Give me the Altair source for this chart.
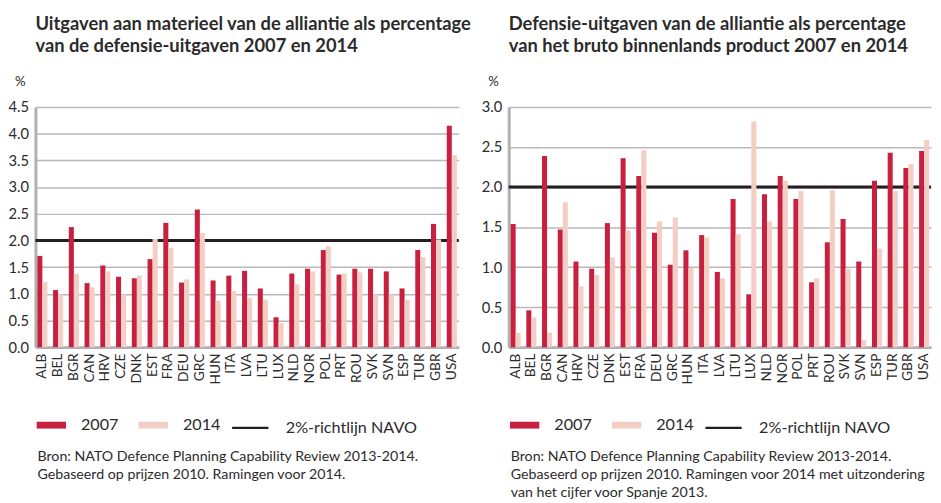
import altair as alt
import pandas as pd

countries = ["ALB", "BEL", "BGR", "CAN", "HRV", "CZE", "DNK", "EST", "FRA", "DEU",
             "GRC", "HUN", "ITA", "LVA", "LTU", "LUX", "NLD", "NOR", "POL", "PRT",
             "ROU", "SVK", "SVN", "ESP", "TUR", "GBR", "USA"]

materieel_2007 = [1.71, 1.07, 2.25, 1.20, 1.53, 1.32, 1.29, 1.65, 2.33, 1.21,
                  2.58, 1.25, 1.34, 1.43, 1.10, 0.56, 1.38, 1.47, 1.82, 1.36,
                  1.47, 1.47, 1.42, 1.10, 1.82, 2.31, 4.15]
materieel_2014 = [1.22, 0.99, 1.37, 1.12, 1.42, 0.99, 1.34, 2.03, 1.86, 1.27,
                  2.14, 0.87, 1.05, 0.92, 0.89, 0.45, 1.18, 1.42, 1.89, 1.38,
                  1.40, 0.99, 0.99, 0.89, 1.69, 2.02, 3.60]

bbp_2007 = [1.54, 0.46, 2.39, 1.47, 1.07, 0.98, 1.55, 2.36, 2.14, 1.43,
            1.03, 1.21, 1.40, 0.94, 1.85, 0.66, 1.91, 2.14, 1.85, 0.81,
            1.31, 1.60, 1.07, 2.08, 2.43, 2.24, 2.45]
bbp_2014 = [0.18, 0.37, 0.18, 1.81, 0.76, 0.90, 1.12, 1.46, 2.46, 1.57,
            1.62, 0.99, 1.37, 0.86, 1.41, 2.82, 1.57, 2.08, 1.95, 0.86,
            1.96, 0.98, 0.09, 1.23, 1.95, 2.29, 2.59]

years = ["2007", "2014"]
guideline_label = "2%-richtlijn NAVO"
guideline_value = [2.0]

left_ticks = [0, 0.5, 1.0, 1.5, 2.0, 2.5, 3.0, 3.5, 4.0, 4.5]
right_ticks = [0, 0.5, 1.0, 1.5, 2.0, 2.5, 3.0]

left_title = ["Uitgaven aan materieel van de alliantie als percentage",
              "van de defensie-uitgaven 2007 en 2014"]
right_title = ["Defensie-uitgaven van de alliantie als percentage",
               "van het bruto binnenlands product 2007 en 2014"]
left_source = ["Bron: NATO Defence Planning Capability Review 2013-2014.",
               "Gebaseerd op prijzen 2010. Ramingen voor 2014."]
right_source = ["Bron: NATO Defence Planning Capability Review 2013-2014.",
                "Gebaseerd op prijzen 2010. Ramingen voor 2014 met uitzondering",
                "van het cijfer voor Spanje 2013."]

RED = "#c8203f"
PINK = "#f2cec4"
BLACK = "#231f20"
GRID = "#b9b9b9"
TEXT = "#2b2b2b"
FONT = "Lato"


def make_df(v07, v14):
    rows = []
    for c, a, b in zip(countries, v07, v14):
        rows.append({"land": c, "reeks": "2007", "waarde": a})
        rows.append({"land": c, "reeks": "2014", "waarde": b})
    return pd.DataFrame(rows)


def panel(v07, v14, ymax, ticks, title_lines, source_lines, width):
    df = make_df(v07, v14)
    legend = alt.Legend(
        orient="bottom", direction="horizontal", title=None,
        symbolType="stroke",
        symbolSize={"expr": "datum.index == 2 ? 1369 : 900"},
        symbolStrokeWidth={"expr": "datum.index == 2 ? 2.5 : 7"},
        symbolStrokeColor={"expr": "datum.index == 0 ? '" + RED + "' : datum.index == 1 ? '" + PINK + "' : '" + BLACK + "'"},
        labelOffset={"expr": "datum.index == 2 ? 28 : 22"},
        labelFont=FONT, labelFontSize=16.5, labelColor=TEXT,
        columnPadding=6, offset=25, padding=8,
    )
    color = alt.Color(
        "reeks:N",
        scale=alt.Scale(domain=years + [guideline_label], range=[RED, PINK, BLACK]),
        legend=legend,
    )
    yaxis = alt.Axis(
        values=ticks, format=".1f", grid=True, gridColor=GRID, gridWidth=1.5,
        domain=True, domainColor="#b0b0b0", domainWidth=3, ticks=False,
        labelPadding=7, labelFont=FONT, labelFontSize=15, labelColor=TEXT,
        labelOverlap=False,
        title="%", titleAngle=0, titleX=-16, titleY=-19, titleAlign="center",
        titleBaseline="bottom", titleFont=FONT, titleFontSize=13.5,
        titleFontWeight="normal", titleColor=TEXT,
    )
    xaxis = alt.Axis(
        title=None, labelAngle=-90, ticks=False, domain=True,
        domainColor="#b0b0b0", domainWidth=3, labelFont=FONT,
        labelFontSize=14, labelColor=TEXT, labelPadding=6, grid=False,
    )
    y = alt.Y("waarde:Q", scale=alt.Scale(domain=[0, ymax], nice=False), axis=yaxis)
    bars = alt.Chart(df).mark_bar().encode(
        x=alt.X("land:N", sort=countries,
                scale=alt.Scale(paddingInner=0.36, paddingOuter=0.12), axis=xaxis),
        xOffset=alt.XOffset("reeks:N", sort=years),
        y=y,
        color=color,
    )
    rule_df = pd.DataFrame({"waarde": guideline_value, "reeks": [guideline_label]})
    rule = alt.Chart(rule_df).mark_rule(strokeWidth=3).encode(
        y=y, color=color,
    )
    inner = alt.layer(rule, bars).properties(
        width=width, height=245,
        title=alt.TitleParams(
            text=title_lines, anchor="start", frame="group", font=FONT,
            fontSize=18.7, fontWeight="bold", color=TEXT, lineHeight=23,
            offset=19,
        ),
    )
    return alt.vconcat(inner).properties(
        title=alt.TitleParams(
            text=source_lines, orient="bottom", anchor="start", font=FONT,
            fontSize=14.5, fontWeight="normal", color=TEXT, lineHeight=18.5,
            offset=3, dx=30,
        )
    )


left = panel(materieel_2007, materieel_2014, 4.5, left_ticks, left_title, left_source, 432)
right = panel(bbp_2007, bbp_2014, 3.0, right_ticks, right_title, right_source, 431)

chart = alt.hconcat(left, right, spacing=10).resolve_scale(
    color="independent"
).resolve_legend(color="independent").properties(
    padding={"left": 0, "top": 2, "right": 0, "bottom": 0},
    background="white",
).configure_view(stroke=None)

chart.save("out.html", embed_options={"renderer": "svg", "actions": False})
